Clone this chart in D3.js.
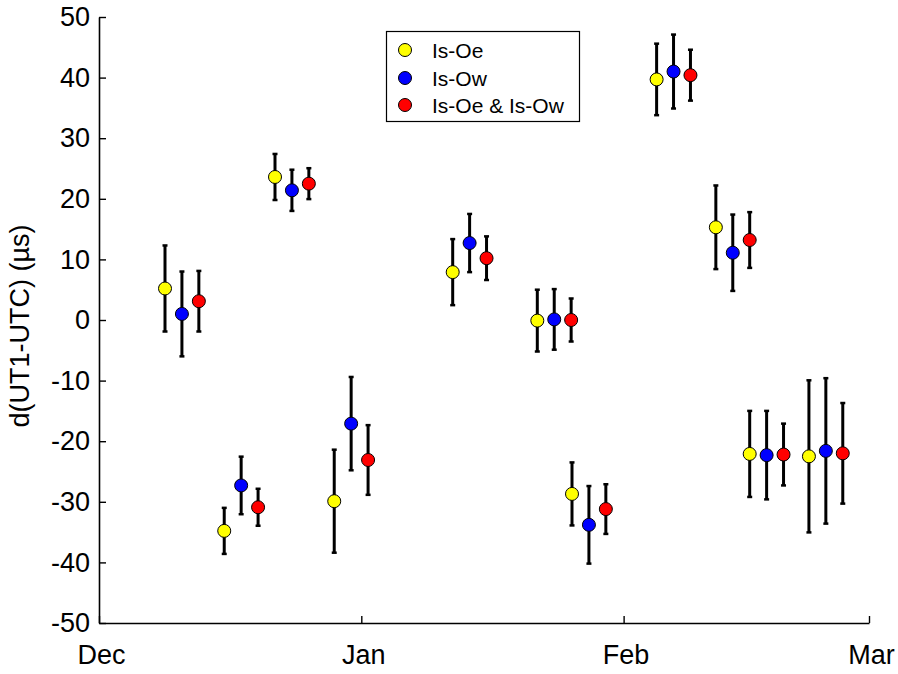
<!DOCTYPE html>
<html>
<head>
<meta charset="utf-8">
<script src="https://cdn.jsdelivr.net/npm/d3@7"></script>
<style>
  html, body { margin: 0; padding: 0; background: #fff; }
  svg { display: block; font-family: "Liberation Sans", Arial, sans-serif; }
</style>
</head>
<body>
<svg id="chart" width="898" height="674"></svg>
<script>
// ---- data ----
// Session centre, in days after 1 Dec 2011 (leap-year span Dec–Mar)
const sessionDays = [9.8, 16.8, 22.8, 29.8, 43.8, 53.8, 57.9, 67.9, 74.9, 78.9, 85.9];
const seriesNames = ["Is-Oe", "Is-Ow", "Is-Oe & Is-Ow"];
const seriesColors = ["#ffff00", "#0000ff", "#ff0000"];
const seriesOffsetDays = [-2, 0, 2];
// values in microseconds
const isOeValues   = [5.2, -34.8, 23.6, -29.9, 7.9, -0.1, -28.7, 39.7, 15.3, -22.1, -22.5];
const isOeErrors   = [7.1, 3.8, 3.8, 8.5, 5.45, 5.1, 5.2, 5.9, 6.9, 7.1, 12.55];
const isOwValues   = [1.0, -27.3, 21.4, -17.1, 12.7, 0.1, -33.8, 41.0, 11.1, -22.3, -21.6];
const isOwErrors   = [7.0, 4.75, 3.4, 7.7, 4.8, 5.0, 6.4, 6.1, 6.3, 7.3, 12.0];
const bothValues   = [3.1, -30.9, 22.5, -23.1, 10.2, 0.0, -31.2, 40.4, 13.2, -22.2, -22.0];
const bothErrors   = [5.0, 3.05, 2.55, 5.75, 3.6, 3.55, 4.1, 4.2, 4.6, 5.1, 8.3];
const xTickLabels = ["Dec", "Jan", "Feb", "Mar"];
const xTickDates = ["2011-12-01", "2012-01-01", "2012-02-01", "2012-03-01"];
const yTicks = [-50, -40, -30, -20, -10, 0, 10, 20, 30, 40, 50];
const yLabel = "d(UT1-UTC) (µs)";

const seriesValues = [isOeValues, isOwValues, bothValues];
const seriesErrors = [isOeErrors, isOwErrors, bothErrors];

// ---- layout ----
const svg = d3.select("#chart");
const mLeft = 99, mRight = 869, mTop = 17, mBottom = 623;
const parse = d3.utcParse("%Y-%m-%d");
const baseDate = parse(xTickDates[0]);
const DAY = 86400000;

const x = d3.scaleUtc()
  .domain([parse(xTickDates[0]), parse(xTickDates[3])])
  .range([mLeft, mRight]);
const y = d3.scaleLinear().domain([-50, 50]).range([mBottom, mTop]);

// axes
const xAxis = d3.axisBottom(x)
  .tickValues(xTickDates.map(parse))
  .tickFormat((d, i) => xTickLabels[i])
  .tickSizeInner(-7).tickSizeOuter(0).tickPadding(22);
const gx = svg.append("g").attr("transform", `translate(0,${mBottom})`).call(xAxis);
gx.selectAll("text").attr("font-size", 27).attr("fill", "#000").attr("dx", 2);

const yAxis = d3.axisLeft(y)
  .tickValues(yTicks)
  .tickFormat(d => String(d))
  .tickSizeInner(-7).tickSizeOuter(0).tickPadding(9);
const gy = svg.append("g").attr("transform", `translate(${mLeft},0)`).call(yAxis);
gy.selectAll("text").attr("font-size", 27).attr("fill", "#000");

[gx, gy].forEach(g => {
  g.attr("font-family", null);
  g.select(".domain").attr("stroke", "#000").attr("stroke-width", 1.6);
  g.selectAll(".tick line").attr("stroke", "#000").attr("stroke-width", 1.4);
});

svg.append("text")
  .attr("transform", `translate(29,${(mTop + mBottom) / 2 + 6}) rotate(-90)`)
  .attr("text-anchor", "middle")
  .attr("font-size", 27)
  .attr("fill", "#000")
  .text(yLabel);

// data points
const points = [];
seriesNames.forEach((name, s) => {
  sessionDays.forEach((day, i) => {
    points.push({
      s,
      date: new Date(baseDate.getTime() + (day + seriesOffsetDays[s]) * DAY),
      v: seriesValues[s][i],
      e: seriesErrors[s][i]
    });
  });
});
const plot = svg.append("g");
const capW = 2.5;
const eb = plot.selectAll("g.pt").data(points).join("g").attr("class", "pt");
eb.append("line")
  .attr("x1", d => x(d.date)).attr("x2", d => x(d.date))
  .attr("y1", d => y(d.v + d.e)).attr("y2", d => y(d.v - d.e))
  .attr("stroke", "#000").attr("stroke-width", 3);
eb.append("line")
  .attr("x1", d => x(d.date) - capW).attr("x2", d => x(d.date) + capW)
  .attr("y1", d => y(d.v + d.e)).attr("y2", d => y(d.v + d.e))
  .attr("stroke", "#000").attr("stroke-width", 2.5);
eb.append("line")
  .attr("x1", d => x(d.date) - capW).attr("x2", d => x(d.date) + capW)
  .attr("y1", d => y(d.v - d.e)).attr("y2", d => y(d.v - d.e))
  .attr("stroke", "#000").attr("stroke-width", 2.5);
plot.selectAll("circle.mk").data(points).join("circle").attr("class", "mk")
  .attr("cx", d => x(d.date)).attr("cy", d => y(d.v)).attr("r", 6.5)
  .attr("fill", d => seriesColors[d.s]).attr("stroke", "#000").attr("stroke-width", 1);

// legend
const lg = svg.append("g");
lg.append("rect").attr("x", 386.5).attr("y", 31.5).attr("width", 193).attr("height", 90)
  .attr("fill", "#fff").attr("stroke", "#000").attr("stroke-width", 1.2);
const lgY = [50, 78, 105];
seriesNames.forEach((name, s) => {
  lg.append("circle").attr("cx", 405).attr("cy", lgY[s]).attr("r", 6.5)
    .attr("fill", seriesColors[s]).attr("stroke", "#000").attr("stroke-width", 1);
  lg.append("text").attr("x", 432).attr("y", lgY[s]).attr("dy", "0.36em")
    .attr("font-size", 21).attr("fill", "#000").text(name);
});
</script>
</body>
</html>
